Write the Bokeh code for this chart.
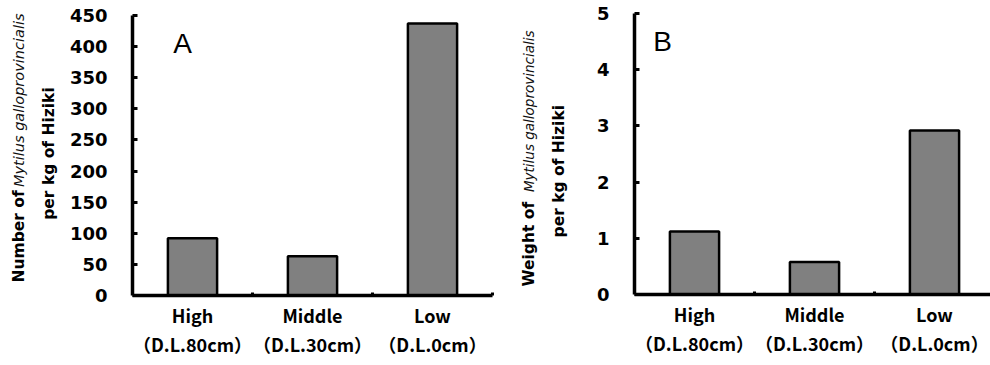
import math
from bokeh.plotting import figure
from bokeh.models import FixedTicker, Label, Range1d
from bokeh.layouts import row, column
from bokeh.core.properties import value
from bokeh.embed import file_html
from bokeh.resources import INLINE

# ---- data ----
categories = ["High\n（D.L.80cm）", "Middle\n（D.L.30cm）", "Low\n（D.L.0cm）"]
number_per_kg = [92, 63, 437]
weight_per_kg = [1.12, 0.58, 2.92]
y_ticks_a = [0, 50, 100, 150, 200, 250, 300, 350, 400, 450]
y_ticks_b = [0, 1, 2, 3, 4, 5]
x_pos = [0.5, 1.5, 2.5]
boundaries = [1, 2, 3]

BAR_FILL = "#808080"
TICK_FONT = "DejaVu Sans"
CAT_FONT = "Noto Sans CJK JP"
TITLE_FONT = "DejaVu Sans"
H = 365


def make_panel(values, yticks, ymax, xend, width, left, right, top, bottom, letter, lx, ly):
    p = figure(width=width, height=H, output_backend="svg", toolbar_location=None,
               x_range=Range1d(0, xend), y_range=Range1d(0, ymax),
               min_border_left=left, min_border_right=right,
               min_border_top=top, min_border_bottom=bottom)
    p.outline_line_color = None
    p.xgrid.visible = False
    p.ygrid.visible = False
    p.background_fill_color = "white"
    p.border_fill_color = "white"

    p.vbar(x=x_pos, top=values, width=0.41, fill_color=BAR_FILL,
           line_color="black", line_width=2.5)

    xa = p.xaxis[0]
    xa.ticker = FixedTicker(ticks=x_pos, minor_ticks=boundaries)
    xa.major_label_overrides = {x: c for x, c in zip(x_pos, categories)}
    xa.major_tick_line_color = None
    xa.minor_tick_line_color = "black"
    xa.minor_tick_line_width = 3
    xa.minor_tick_in = 3
    xa.minor_tick_out = 0
    xa.axis_line_width = 3.5
    xa.axis_line_color = "black"
    xa.major_label_text_font = CAT_FONT
    xa.major_label_text_font_style = "bold"
    xa.major_label_text_font_size = "18px"
    xa.major_label_text_color = "black"
    xa.major_label_text_line_height = 1.15
    xa.major_label_standoff = 0

    ya = p.yaxis[0]
    ya.ticker = FixedTicker(ticks=yticks)
    ya.major_tick_in = 5
    ya.major_tick_out = 0
    ya.major_tick_line_width = 3
    ya.minor_tick_line_color = None
    ya.axis_line_width = 3.5
    ya.axis_line_color = "black"
    ya.major_label_text_font = TICK_FONT
    ya.major_label_text_font_style = "bold"
    ya.major_label_text_font_size = "18px"
    ya.major_label_text_color = "black"
    ya.major_label_standoff = 25

    p.add_layout(Label(x=lx, y=ly, x_units="data", y_units="data", text=letter,
                       text_align="center", text_baseline="middle",
                       text_font="Liberation Sans", text_font_size="28px",
                       text_color="black"))
    return p


def title_panel(width, first, italic, second, x1, y1s, y1e, x2, y2c, it_size):
    # pixel-space figure (y measured upward from the bottom) holding the rotated title
    t = figure(width=width, height=H, output_backend="svg", toolbar_location=None,
               x_range=Range1d(0, width), y_range=Range1d(0, H),
               x_axis_type=None, y_axis_type=None,
               min_border_left=0, min_border_right=0, min_border_top=0, min_border_bottom=0)
    t.outline_line_color = None
    t.xgrid.visible = False
    t.ygrid.visible = False
    t.text(x=[x1], y=[H - y1s], text=[first], angle=math.pi / 2,
           text_align="left", text_baseline="middle",
           text_font=value(TITLE_FONT), text_font_style="bold",
           text_font_size="15.5px", text_color="black")
    t.text(x=[x1], y=[H - y1e], text=[italic], angle=math.pi / 2,
           text_align="right", text_baseline="middle",
           text_font=value("DejaVu Sans"), text_font_style="italic",
           text_font_size=it_size, text_color="#111111")
    t.text(x=[x2], y=[H - y2c], text=[second], angle=math.pi / 2,
           text_align="center", text_baseline="middle",
           text_font=value(TITLE_FONT), text_font_style="bold",
           text_font_size="15.5px", text_color="black")
    return t


# Panel A: x frame 132..492, y frame 15..295 (page pixels)
tA = title_panel(65, "Number of", "Mytilus galloprovincialis", "per kg of Hiziki",
                 18, 282, 13, 48, 153, "14.5px")
pA = make_panel(number_per_kg, y_ticks_a, 450, 3, 430, 67, 3, 15, 70,
                "A", (182 - 132) / 120.0, (295 - 43) * 450 / 280.0)

# Panel B: x frame 634..990, y frame 13..294
tB = title_panel(80, "Weight of", "Mytilus galloprovincialis", "per kg of  Hiziki",
                 33, 286, 30, 63, 168, "13.5px")
pB = make_panel(weight_per_kg, y_ticks_b, 5, 356 / 120.0, 415, 59, 0, 13, 71,
                "B", (662 - 634) / 120.0, (294 - 41) * 5 / 281.0)

layout = row(column(tA), column(pA), column(tB), column(pB))
open("out.html", "w").write(file_html(layout, INLINE))
